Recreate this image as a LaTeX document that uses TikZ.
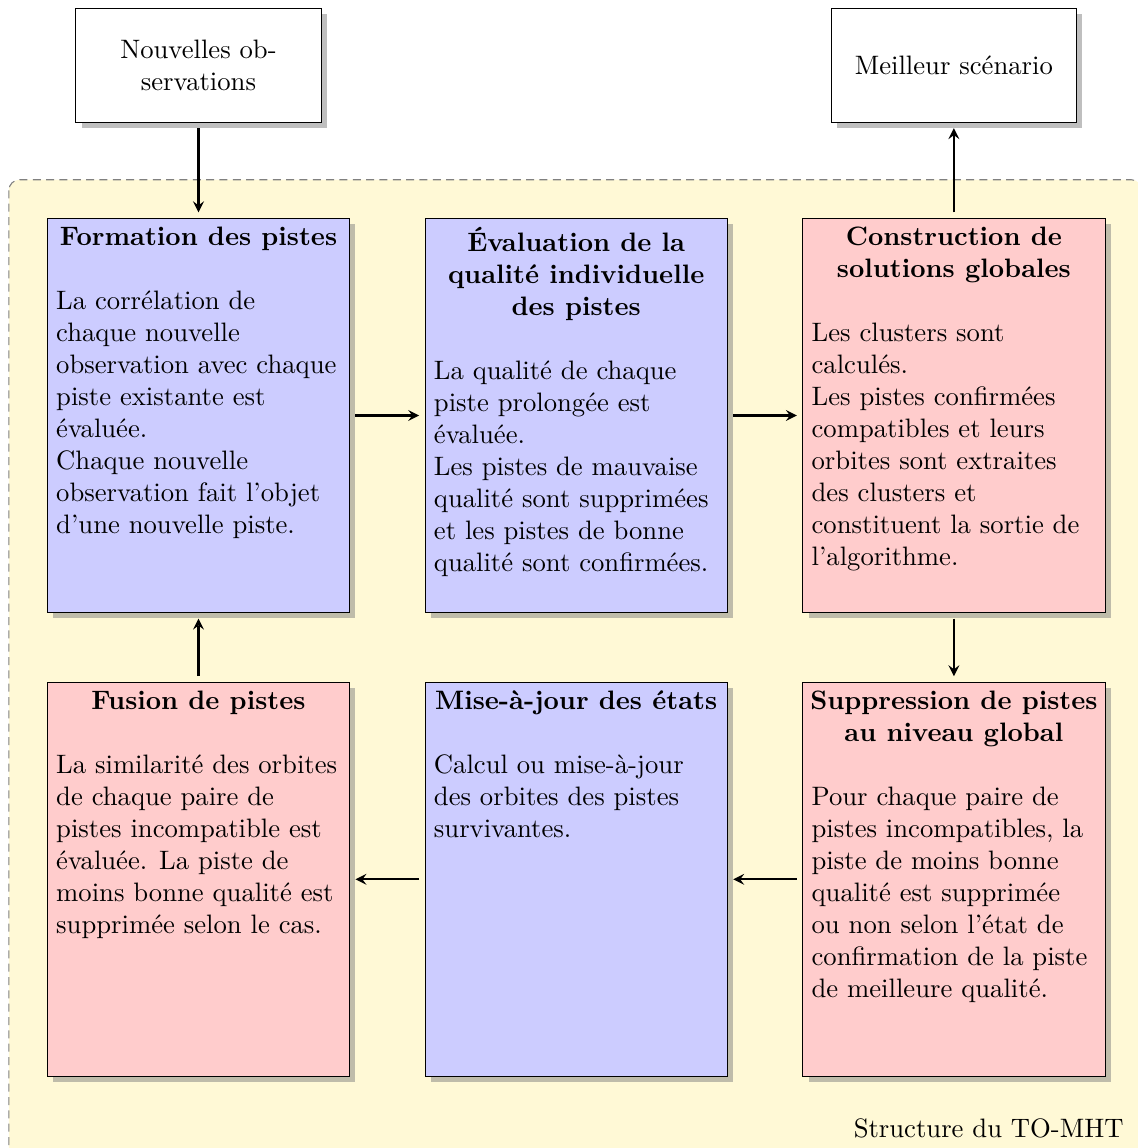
\documentclass[tikz,border=0pt]{standalone}
\usepackage{tikz}
\usetikzlibrary{positioning, shadows, backgrounds}
\definecolor{bgcolor}{RGB}{255,249,214}
\definecolor{bluecolor}{RGB}{204,204,255}
\definecolor{redcolor}{RGB}{255,204,204}

% titre centre en gras, puis texte aligne a gauche
\newcommand{\boxtext}[2]{%
    \parbox[c][4.96cm][t]{3.75cm}{\centering\textbf{#1}\par
    \vspace{\baselineskip}\raggedright #2}}

\begin{document}
\begin{tikzpicture}[
    >=stealth,
    blk/.style={
        draw, fill=#1, drop shadow,
        minimum width=3.97cm, minimum height=5.2cm,
        inner sep=0.3333em
    },
    ext/.style={
        draw, fill=white, drop shadow,
        text width=3cm, minimum height=1.5cm,
        align=center
    },
    arr/.style={->, thick, shorten >=2pt, shorten <=2pt}
]
\useasboundingbox (-2.616,5.476) rectangle (12.383,-9.655);

% =========================
% TOP ROW
% =========================
\node[blk=bluecolor] (FORM) at (0,0)
{\boxtext{Formation des pistes}
    {La corrélation de\\
     chaque nouvelle\\
     observation avec chaque\\
     piste existante est\\
     évaluée.\\
     Chaque nouvelle\\
     observation fait l'objet\\
     d'une nouvelle piste.}};

\node[blk=bluecolor, right=0.98cm of FORM] (EVAL)
{\boxtext{Évaluation de la\\qualité individuelle\\des pistes}
    {La qualité de chaque\\
     piste prolongée est\\
     évaluée.\\
     Les pistes de mauvaise\\
     qualité sont supprimées\\
     et les pistes de bonne\\
     qualité sont confirmées.}};

\node[blk=redcolor, right=0.98cm of EVAL] (CONS)
{\boxtext{Construction de\\solutions globales}
    {Les clusters sont\\
     calculés.\\
     Les pistes confirmées\\
     compatibles et leurs\\
     orbites sont extraites\\
     des clusters et\\
     constituent la sortie de\\
     l'algorithme.}};

% =========================
% BOTTOM ROW
% =========================
\node[blk=redcolor, below=0.9cm of FORM] (FUS)
{\boxtext{Fusion de pistes}
    {La similarité des orbites\\
     de chaque paire de\\
     pistes incompatible est\\
     évaluée. La piste de\\
     moins bonne qualité est\\
     supprimée selon le cas.}};

\node[blk=bluecolor, below=0.9cm of EVAL] (MAJ)
{\boxtext{Mise-à-jour des états}
    {Calcul ou mise-à-jour\\
     des orbites des pistes\\
     survivantes.}};

\node[blk=redcolor, below=0.9cm of CONS] (SUPP)
{\boxtext{\makebox[3.75cm]{Suppression de pistes}\\au niveau global}
    {Pour chaque paire de\\
     pistes incompatibles, la\\
     piste de moins bonne\\
     qualité est supprimée\\
     ou non selon l'état de\\
     confirmation de la piste\\
     de meilleure qualité.}};

% =========================
% INPUT / OUTPUT
% =========================
\node[ext, above=1.25cm of FORM] (OBS) {Nouvelles ob-\\servations};
\node[ext, above=1.25cm of CONS] (MEIL) {Meilleur scénario};

\node[anchor=base east] (TITRE) at (12.317,-9.523) {Structure du TO-MHT};

% fond du TO-MHT
\begin{scope}[on background layer]
\draw[densely dashed, gray, fill=bgcolor, rounded corners]
    ([shift={(-0.5,0.5)}]FORM.north west) rectangle ([shift={(0.48,-1.2)}]SUPP.south east);
\end{scope}

% =========================
% ARROWS
% =========================
\draw[arr] (OBS) -- (FORM);
\draw[arr] (FORM) -- (EVAL);
\draw[arr] (EVAL) -- (CONS);
\draw[arr] (CONS) -- (MEIL);
\draw[arr] (CONS) -- (SUPP);
\draw[arr] (SUPP) -- (MAJ);
\draw[arr] (MAJ) -- (FUS);
\draw[arr] (FUS) -- (FORM);

\end{tikzpicture}
\end{document}
